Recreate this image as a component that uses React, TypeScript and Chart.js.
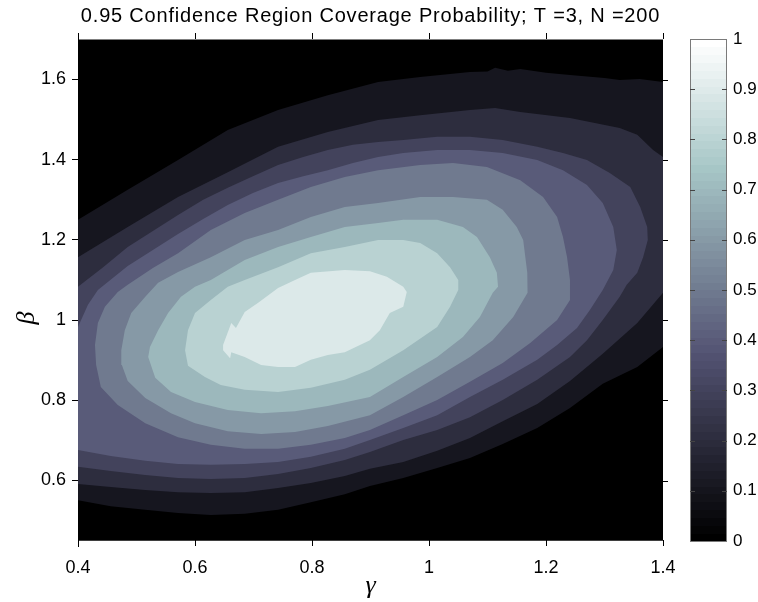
import React, { useEffect, useRef } from "react";
import { Chart, registerables } from "chart.js";

Chart.register(...registerables);

// ---------- data ----------
const xTicks = [0.4, 0.6, 0.8, 1, 1.2, 1.4];
const yTicks = [0.6, 0.8, 1, 1.2, 1.4, 1.6];
const cbTicks = [0, 0.1, 0.2, 0.3, 0.4, 0.5, 0.6, 0.7, 0.8, 0.9, 1];
const levels = [0, 0.1, 0.2, 0.3, 0.4, 0.5, 0.6, 0.7, 0.8, 0.9];

// outer region (value >= 0): the whole sampled domain
const region00 = [[0.4, 0.45], [1.4, 0.45], [1.4, 1.7], [0.4, 1.7]];
// contour 0.1
const region01 = [
  [0.4, 1.25], [0.485, 1.325], [0.571, 1.399], [0.656, 1.474], [0.742, 1.524], [0.827, 1.561], [0.913, 1.594],
  [0.985, 1.606], [1.07, 1.619], [1.1, 1.62], [1.113, 1.629], [1.135, 1.622], [1.156, 1.626], [1.2, 1.617],
  [1.241, 1.611], [1.3, 1.604], [1.326, 1.599], [1.36, 1.601], [1.4, 1.594],
  [1.4, 0.933], [1.356, 0.883], [1.297, 0.841], [1.241, 0.781], [1.185, 0.731], [1.126, 0.691], [1.07, 0.656],
  [1.014, 0.631], [0.956, 0.606], [0.899, 0.586], [0.856, 0.566], [0.798, 0.546], [0.742, 0.527], [0.685, 0.517],
  [0.627, 0.514], [0.571, 0.519], [0.515, 0.527], [0.456, 0.536], [0.4, 0.551],
];
// contour 0.2
const region02 = [
  [0.4, 1.157], [0.485, 1.232], [0.571, 1.307], [0.656, 1.369], [0.742, 1.432], [0.827, 1.469], [0.913, 1.499],
  [0.985, 1.511], [1.07, 1.524], [1.113, 1.529], [1.156, 1.519], [1.241, 1.504], [1.326, 1.479], [1.356, 1.462],
  [1.383, 1.424], [1.4, 1.407],
  [1.4, 1.068], [1.356, 0.993], [1.297, 0.916], [1.241, 0.848], [1.185, 0.791], [1.126, 0.748], [1.07, 0.706],
  [1.014, 0.674], [0.956, 0.646], [0.899, 0.629], [0.856, 0.611], [0.798, 0.594], [0.742, 0.581], [0.685, 0.571],
  [0.627, 0.569], [0.571, 0.571], [0.515, 0.576], [0.456, 0.584], [0.4, 0.591],
];
// contour 0.3
const region03 = [
  [0.4, 1.083], [0.443, 1.132], [0.485, 1.182], [0.528, 1.222], [0.571, 1.262], [0.614, 1.3], [0.656, 1.33],
  [0.699, 1.359], [0.742, 1.387], [0.785, 1.407], [0.827, 1.424], [0.87, 1.437], [0.913, 1.444], [0.956, 1.449],
  [1.014, 1.457], [1.07, 1.457], [1.126, 1.449], [1.185, 1.432], [1.229, 1.417], [1.27, 1.399], [1.309, 1.367],
  [1.344, 1.332], [1.361, 1.282], [1.373, 1.232], [1.374, 1.2], [1.366, 1.157], [1.356, 1.118], [1.338, 1.088],
  [1.326, 1.058], [1.297, 1.0], [1.27, 0.95], [1.241, 0.908], [1.185, 0.851], [1.126, 0.801], [1.07, 0.758],
  [1.014, 0.726], [0.956, 0.701], [0.899, 0.671], [0.856, 0.651], [0.798, 0.631], [0.742, 0.616], [0.685, 0.606],
  [0.627, 0.604], [0.571, 0.606], [0.515, 0.614], [0.456, 0.624], [0.4, 0.634],
];
// contour 0.4
const region04 = [
  [0.4, 0.983], [0.417, 1.038], [0.434, 1.075], [0.485, 1.135], [0.528, 1.175], [0.571, 1.215], [0.614, 1.252],
  [0.656, 1.287], [0.699, 1.317], [0.742, 1.342], [0.785, 1.359], [0.827, 1.374], [0.87, 1.392], [0.913, 1.407],
  [0.956, 1.417], [1.014, 1.424], [1.07, 1.424], [1.126, 1.417], [1.185, 1.399], [1.229, 1.374], [1.27, 1.337],
  [1.297, 1.292], [1.315, 1.232], [1.321, 1.175], [1.315, 1.125], [1.297, 1.075], [1.275, 1.025], [1.253, 0.98],
  [1.219, 0.938], [1.185, 0.901], [1.126, 0.851], [1.07, 0.808], [1.014, 0.763], [0.956, 0.731], [0.899, 0.701],
  [0.856, 0.679], [0.798, 0.659], [0.742, 0.646], [0.685, 0.641], [0.627, 0.639], [0.571, 0.641], [0.515, 0.649],
  [0.456, 0.661], [0.4, 0.676],
];
// contour 0.5
const region05 = [
  [0.429, 0.938], [0.434, 0.993], [0.446, 1.033], [0.468, 1.07], [0.485, 1.088], [0.528, 1.13], [0.571, 1.167],
  [0.627, 1.225], [0.685, 1.267], [0.742, 1.3], [0.798, 1.332], [0.856, 1.357], [0.913, 1.374], [0.985, 1.387],
  [1.041, 1.392], [1.099, 1.382], [1.156, 1.349], [1.195, 1.307], [1.219, 1.257], [1.229, 1.207], [1.236, 1.157],
  [1.241, 1.1], [1.241, 1.05], [1.219, 1.0], [1.173, 0.943], [1.126, 0.893], [1.07, 0.846], [1.014, 0.801],
  [0.956, 0.763], [0.899, 0.726], [0.856, 0.706], [0.798, 0.689], [0.742, 0.679], [0.685, 0.679], [0.627, 0.689],
  [0.571, 0.708], [0.515, 0.743], [0.468, 0.788], [0.439, 0.833], [0.431, 0.888],
];
// contour 0.6
const region06 = [
  [0.474, 0.925], [0.48, 0.975], [0.491, 1.018], [0.515, 1.058], [0.537, 1.093], [0.571, 1.12], [0.627, 1.157],
  [0.685, 1.2], [0.742, 1.225], [0.798, 1.257], [0.856, 1.282], [0.913, 1.292], [0.985, 1.307], [1.041, 1.307],
  [1.099, 1.3], [1.126, 1.275], [1.15, 1.232], [1.161, 1.2], [1.168, 1.118], [1.169, 1.083], [1.168, 1.068],
  [1.144, 1.008], [1.109, 0.95], [1.07, 0.908], [1.014, 0.858], [0.956, 0.808], [0.899, 0.763], [0.827, 0.736],
  [0.771, 0.721], [0.713, 0.716], [0.656, 0.723], [0.6, 0.743], [0.559, 0.768], [0.515, 0.806], [0.485, 0.848],
  [0.475, 0.888],
];
// contour 0.7
const region07 = [
  [0.52, 0.908], [0.523, 0.933], [0.537, 0.975], [0.554, 1.018], [0.576, 1.058], [0.6, 1.083], [0.627, 1.1],
  [0.685, 1.15], [0.742, 1.182], [0.798, 1.207], [0.856, 1.232], [0.913, 1.242], [0.956, 1.25], [1.014, 1.25],
  [1.058, 1.232], [1.082, 1.207], [1.104, 1.157], [1.116, 1.118], [1.118, 1.083], [1.109, 1.068], [1.087, 1.008],
  [1.058, 0.958], [1.014, 0.908], [0.956, 0.858], [0.899, 0.808], [0.827, 0.786], [0.771, 0.773], [0.713, 0.768],
  [0.656, 0.776], [0.6, 0.796], [0.559, 0.821], [0.532, 0.856],
];
// contour 0.8
const region08 = [
  [0.583, 0.925], [0.588, 0.975], [0.6, 1.018], [0.627, 1.05], [0.656, 1.083], [0.685, 1.1], [0.742, 1.132],
  [0.798, 1.167], [0.856, 1.182], [0.913, 1.2], [0.956, 1.2], [0.985, 1.192], [1.014, 1.167], [1.036, 1.132],
  [1.05, 1.1], [1.05, 1.075], [1.036, 1.033], [1.014, 0.983], [0.956, 0.925], [0.899, 0.876], [0.856, 0.851],
  [0.798, 0.831], [0.742, 0.821], [0.685, 0.826], [0.644, 0.838], [0.617, 0.858], [0.588, 0.886],
];
// contour 0.9
const region09 = [
  [0.648, 0.938], [0.662, 0.993], [0.67, 0.98], [0.685, 1.02], [0.708, 1.043], [0.742, 1.08], [0.771, 1.1],
  [0.798, 1.118], [0.856, 1.125], [0.899, 1.122], [0.928, 1.108], [0.956, 1.083], [0.962, 1.07], [0.956, 1.033],
  [0.933, 1.018], [0.916, 0.975], [0.899, 0.95], [0.856, 0.92], [0.827, 0.913], [0.798, 0.901], [0.771, 0.883],
  [0.742, 0.883], [0.713, 0.888], [0.685, 0.908], [0.662, 0.92], [0.66, 0.905], [0.648, 0.925],
];

const regions = [region00, region01, region02, region03, region04, region05, region06, region07, region08, region09];

const titleText = "0.95 Confidence Region Coverage Probability; T =3, N =200";
const xLabel = "\u03b3";
const yLabel = "\u03b2";

// ---------- style ----------
const FONT = "'Liberation Sans', Arial, Helvetica, sans-serif";
const GREEK = "'Liberation Serif', 'DejaVu Serif', serif";

function clamp01(v: number) {
  return Math.max(0, Math.min(1, v));
}
// MATLAB "bone" colormap
function bone(t: number): string {
  const hr = clamp01(t / 0.375);
  const hg = clamp01((t - 0.375) / 0.375);
  const hb = clamp01((t - 0.75) / 0.25);
  const r = (7 * t + hb) / 8;
  const g = (7 * t + hg) / 8;
  const b = (7 * t + hr) / 8;
  return `rgb(${Math.round(r * 255)},${Math.round(g * 255)},${Math.round(b * 255)})`;
}

const decor = {
  id: "decor",
  beforeDatasetsDraw(chart: any) {
    const ctx = chart.ctx;
    const { top, bottom } = chart.chartArea;
    const xs = chart.scales.x;
    ctx.save();
    ctx.strokeStyle = "#000";
    ctx.lineWidth = 1;
    for (const v of xTicks) {
      const px = Math.round(xs.getPixelForValue(v)) + 0.5;
      ctx.beginPath();
      ctx.moveTo(px, top);
      ctx.lineTo(px, top + 6);
      ctx.moveTo(px, bottom - 6);
      ctx.lineTo(px, bottom);
      ctx.stroke();
    }
    ctx.restore();
  },
  afterDraw(chart: any) {
    const ctx = chart.ctx;
    const { left, right } = chart.chartArea;
    const ys = chart.scales.y;
    const cb = chart.scales.cb;
    ctx.save();
    // right-side ticks of the plot
    ctx.strokeStyle = "#000";
    ctx.lineWidth = 1;
    for (const v of yTicks) {
      const py = Math.round(ys.getPixelForValue(v)) + 0.5;
      ctx.beginPath();
      ctx.moveTo(right, py);
      ctx.lineTo(right + 5, py);
      ctx.stroke();
    }
    // colorbar
    const cbL = right + 27;
    const cbW = 37;
    const n = 64;
    for (let i = 0; i < n; i++) {
      const y0 = cb.getPixelForValue(i / n);
      const y1 = cb.getPixelForValue((i + 1) / n);
      ctx.fillStyle = bone(i / (n - 1));
      const yt = Math.floor(y1);
      ctx.fillRect(cbL, yt, cbW, Math.ceil(y0) - yt);
    }
    const cTop = Math.round(cb.getPixelForValue(1)) + 0.5;
    const cBot = Math.round(cb.getPixelForValue(0)) + 0.5;
    ctx.strokeStyle = "#7a7a7a";
    ctx.strokeRect(cbL + 0.5, cTop, cbW - 1, cBot - cTop);
    ctx.strokeStyle = "#444";
    for (const v of cbTicks) {
      if (v === 0 || v === 1) continue;
      const py = Math.round(cb.getPixelForValue(v)) + 0.5;
      ctx.beginPath();
      ctx.moveTo(cbL, py);
      ctx.lineTo(cbL + 5, py);
      ctx.moveTo(cbL + cbW - 5, py);
      ctx.lineTo(cbL + cbW, py);
      ctx.stroke();
    }
    // title
    ctx.fillStyle = "#000";
    ctx.font = `20px ${FONT}`;
    (ctx as any).letterSpacing = "0.8px";
    ctx.textAlign = "center";
    ctx.textBaseline = "middle";
    ctx.fillText(titleText, (left + right) / 2, 16);
    (ctx as any).letterSpacing = "0px";
    // axis labels
    ctx.font = `italic 26px ${GREEK}`;
    ctx.fillText(xLabel, (left + right) / 2, 586);
    ctx.save();
    ctx.translate(27, 318);
    ctx.rotate(-Math.PI / 2);
    ctx.fillText(yLabel, 0, 0);
    ctx.restore();
    ctx.restore();
  },
};

export default function App() {
  const ref = useRef<HTMLCanvasElement>(null);
  useEffect(() => {
    const canvas = ref.current;
    if (!canvas) return;
    const datasets = regions.map((r, i) => {
      const pts = r.map(([x, y]) => ({ x, y }));
      pts.push({ ...pts[0] });
      return {
        label: `>= ${levels[i]}`,
        data: pts,
        showLine: true,
        fill: "shape",
        backgroundColor: bone(levels[i]),
        borderColor: "rgba(0,0,0,0)",
        borderWidth: 0,
        pointRadius: 0,
        pointHoverRadius: 0,
        tension: 0,
        order: 100 - i,
        xAxisID: "x",
        yAxisID: "y",
      };
    });
    const tickFont = { family: FONT, size: 18 };
    const chart = new Chart(canvas, {
      type: "scatter",
      data: { datasets } as any,
      options: {
        responsive: false,
        maintainAspectRatio: false,
        animation: false,
        devicePixelRatio: 1,
        events: [],
        layout: { padding: { top: 33, left: 0, right: 0, bottom: 0 } },
        plugins: { legend: { display: false }, tooltip: { enabled: false }, title: { display: false } },
        scales: {
          x: {
            type: "linear",
            min: 0.4,
            max: 1.4,
            afterBuildTicks: (s: any) => {
              s.ticks = xTicks.map((v) => ({ value: v }));
            },
            afterFit: (s: any) => {
              s.height = 56;
              s.paddingLeft = 0;
              s.paddingRight = 0;
            },
            ticks: {
              color: "#000",
              font: tickFont,
              padding: 11,
              maxRotation: 0,
              callback: (v: any) => String(v),
            },
            grid: { display: false, drawTicks: false },
            border: { display: false },
          },
          y: {
            type: "linear",
            position: "left",
            min: 0.43666,
            max: 1.71596,
            afterBuildTicks: (s: any) => {
              s.ticks = yTicks.map((v) => ({ value: v }));
            },
            afterFit: (s: any) => {
              s.width = 78;
              s.paddingTop = 0;
              s.paddingBottom = 0;
            },
            ticks: {
              color: "#000",
              font: tickFont,
              padding: 6,
              callback: (v: any) => String(v),
            },
            grid: { display: true, drawOnChartArea: false, drawTicks: true, tickLength: 6, color: "#000" },
            border: { display: true, color: "#000" },
          },
          cb: {
            type: "linear",
            position: "right",
            min: -0.00996,
            max: 1.01195,
            afterBuildTicks: (s: any) => {
              s.ticks = cbTicks.map((v) => ({ value: v }));
            },
            afterFit: (s: any) => {
              s.width = 95;
              s.paddingTop = 0;
              s.paddingBottom = 0;
            },
            ticks: {
              color: "#000",
              font: { family: FONT, size: 17 },
              padding: 70,
              callback: (v: any) => String(v),
            },
            grid: { display: false, drawTicks: false },
            border: { display: false },
          },
        },
      } as any,
      plugins: [decor],
    });
    return () => chart.destroy();
  }, []);
  return (
    <div style={{ position: "absolute", left: 0, top: 0, width: 758, height: 602, background: "#fff" }}>
      <canvas ref={ref} width={758} height={602} style={{ display: "block", width: 758, height: 602 }} />
    </div>
  );
}
